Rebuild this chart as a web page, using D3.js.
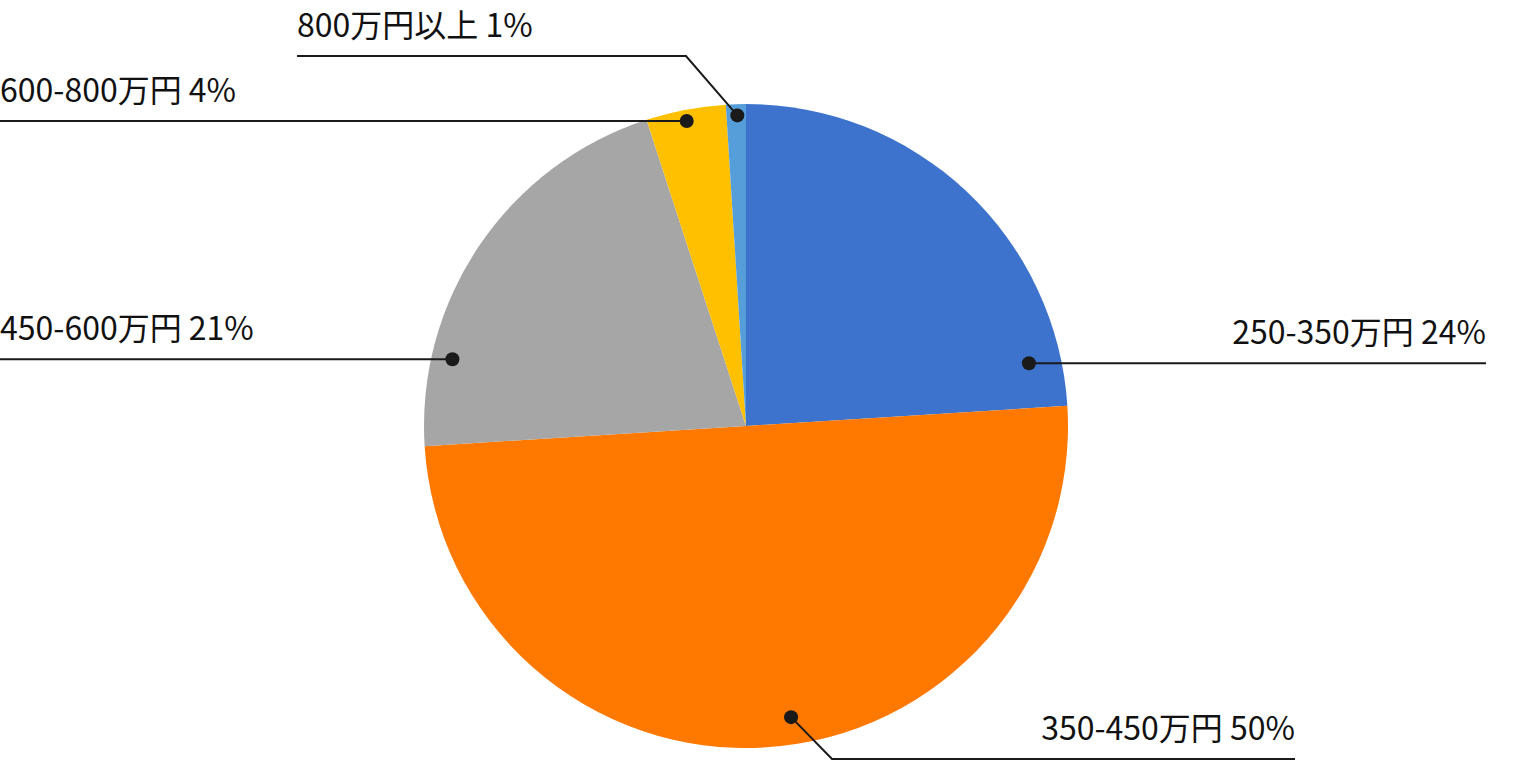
<!DOCTYPE html>
<meta charset="utf-8">
<head>
    <title>年収分布</title>
    <script type="text/javascript" src="https://cdn.jsdelivr.net/npm/d3@7"></script>
    <style>
        body { margin: 0; background: #fff; }
        text { font-family: "Noto Sans CJK JP", "Noto Sans", sans-serif; fill: #111; font-weight: 400; }
    </style>
</head>
<body>
    <script>
        // data
        var categories = ["250-350万円", "350-450万円", "450-600万円", "600-800万円", "800万円以上"];
        var shares = [24, 50, 21, 4, 1];
        var colors = ["#3D73CD", "#FF7800", "#A6A6A6", "#FFC000", "#559ED9"];

        // label layout: dot angle (deg from 12 o'clock) and radius share, leader line route
        var labelLayout = [
            {angle: 77.5, r: 0.90, elbow: null, lineY: null, end: 1486, anchor: "end"},
            {angle: 171.2, r: 0.915, elbow: 832, lineY: 759, end: 1295, anchor: "end"},
            {angle: 282.8, r: 0.935, elbow: null, lineY: null, end: 0, anchor: "start"},
            {angle: 349.0, r: 0.965, elbow: null, lineY: null, end: 0, anchor: "start"},
            {angle: 358.4, r: 0.965, elbow: 686, lineY: 56, end: 297, anchor: "start"}
        ];

        var width = 1516, height = 768;
        var cx = 746, cy = 426, radius = 322;

        var svg = d3.select("body").append("svg")
            .attr("width", width)
            .attr("height", height);

        var table = categories.map(function(c, i) {
            return {name: c, value: shares[i], color: colors[i], lay: labelLayout[i]};
        });

        var pie = d3.pie().sort(null).value(function(d) { return d.value; });
        var arc = d3.arc().innerRadius(0).outerRadius(radius);

        var g = svg.append("g").attr("transform", "translate(" + cx + "," + cy + ")");

        g.selectAll("path")
            .data(pie(table))
            .enter()
            .append("path")
            .attr("d", arc)
            .attr("fill", function(d) { return d.data.color; });

        // labels
        table.forEach(function(d) {
            var p = d3.pointRadial(d.lay.angle * Math.PI / 180, d.lay.r * radius);
            var dx = p[0] + cx, dy = p[1] + cy;
            var pts;
            var ly;
            if (d.lay.elbow !== null) {
                ly = d.lay.lineY;
                pts = [[dx, dy], [d.lay.elbow, ly], [d.lay.end, ly]];
            } else {
                ly = dy;
                pts = [[dx, dy], [d.lay.end, ly]];
            }
            svg.append("path")
                .attr("d", d3.line()(pts))
                .attr("fill", "none")
                .attr("stroke", "#1a1a1a")
                .attr("stroke-width", 2);
            svg.append("circle")
                .attr("cx", dx).attr("cy", dy).attr("r", 7)
                .attr("fill", "#1a1a1a");
            svg.append("text")
                .attr("x", d.lay.end)
                .attr("y", ly - 19)
                .attr("text-anchor", d.lay.anchor)
                .attr("font-size", 32)
                .text(d.name + " " + d.value + "%");
        });
    </script>
</body>
</html>
